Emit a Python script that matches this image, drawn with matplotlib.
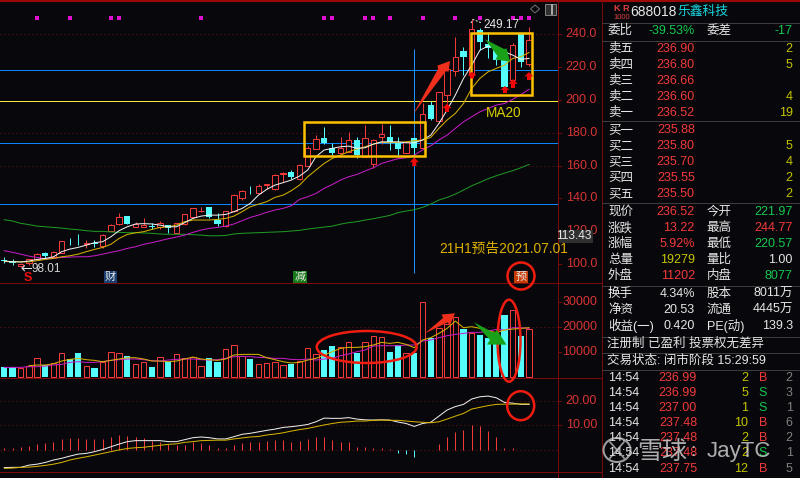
import numpy as np
import matplotlib
matplotlib.use("Agg")
import matplotlib.pyplot as plt
from matplotlib.patches import Polygon, Rectangle, Ellipse

plt.rcParams['font.family'] = ['Liberation Sans', 'Noto Sans CJK SC', 'DejaVu Sans']

# ---------- data ----------
opens = [102.5,101.8,99.0,100.4,103.2,106.5,104,107,113,113,112,112.7,111,120,124.3,129.2,122.8,122.8,123.2,122.4,123.8,118.7,124.3,128.4,132.2,135,126.8,123,132.5,140,144.8,143.5,148.3,145.5,154.9,155.8,151.8,160,170.3,177,170.5,167.8,168.2,175.6,165.4,161,177.6,177.2,173.5,167.8,176.6,170.5,196.8,187.4,203,218,230,215,242.6,234,231,229,212,240.5,221.97]
closes = [102,100.4,100,102.8,105.8,105,107.5,113.8,112.5,112.5,112.5,112.3,117.5,124,128.4,124.3,124.4,124,122.8,124.8,121.8,124.8,130.2,134,132.6,128.8,124.3,132.5,142,144.3,144.4,147.5,148.6,154,154.9,153.2,160.3,171,176,173.5,167.8,171,175.4,166.4,176.6,175.6,179,174.6,169.9,174.5,170.5,191.4,188.2,204.8,219,226.4,226,243.4,235.5,231.7,224.5,208,233.6,223.3,236.52]
highs = [104,103,100.4,103,106.5,107.5,108,114,115.6,118,114.6,114.6,118,124.2,131,129.4,125.8,127.8,124.8,126.4,124,125,130.5,134,135,135,130.8,132.5,142.5,145,147.8,148.8,148.6,155,155.8,157.2,161.2,172,178.6,183.3,174,177.6,180.2,177.2,184.5,176,185.3,184.5,177.2,174.8,176.8,198,199.6,205,219,238.6,232.5,249.17,243.9,241.6,233,230.5,234.5,240.6,244.77]
lows = [100.4,99.4,98.01,99.4,102.4,103.4,103.4,107,111.5,111.5,110,110.5,110,120,124,124.2,122.5,122.4,121.5,121.5,118.6,118.6,124,127.8,131.5,128,123,122.5,132,139,142.6,142.6,146,145,150,151.6,151.5,159.5,170,173.1,166.4,167.4,168.2,164.4,165,158.7,173,169.5,166.4,167.4,165.4,170,187.8,186,198,214.6,215.2,214,230.5,225.4,221.4,207.5,210,220,220.57]
ma5 = [101.8,101.4,101.2,101.8,102.8,103.4,104.4,107.5,109.1,110.1,111.5,113,113.6,116.6,120.3,122.7,124.4,124.6,124.4,123.7,122.7,122.7,125.2,127.8,129.2,129.8,129.8,130.2,131.9,133.9,137,142,145.5,148.1,149.6,151.2,153.6,157.3,165.4,169.5,170.5,171.5,171.9,170.5,170.9,173.1,174.5,174.5,174.5,173.9,173.9,175.6,178.6,185.7,193.9,203,213.2,221.3,230.4,232.9,231.5,229.4,227.4,224.8,225.4]
ma10 = [101.5,101.4,101.3,101.3,102,102.8,103.4,104.4,105,106,107.5,108.9,110.1,112,115.6,118,119,119.7,121.1,122.3,122.7,123.7,125.8,126.8,126.8,126.8,127.2,127.8,129.2,131.9,134.9,136.5,138,140.6,142,144.7,148.1,153.2,157.3,161.3,164.4,166.4,168.5,170.1,171.5,173.1,174.3,173.9,174.3,174.5,175.2,175.6,177.2,182.7,187.8,191.8,197.9,207.1,213.2,217.2,219.3,221.3,225.4,226.4,229]
ma20 = [108.1,107.1,106,104.8,104,103.2,103.4,104,104.2,104.4,104.4,105,106,107.1,108.1,109.5,110.5,112,113,114.2,115.4,116.4,117.6,119.3,120.7,121.7,122.3,123.1,124.4,126.4,128.4,129.8,131.5,132.9,133.9,135.5,139.4,141,143,146.1,148.5,151.2,153.2,154.6,156.7,158.7,161.3,162.8,164.2,164.8,166.4,169.5,172.1,175.6,178.6,182.7,186.7,189.8,192.8,194.9,196.9,197.9,200.4,203.4,206.5]
ma60 = [127,126.2,124.8,124,123.1,122.7,122.3,121.9,121.3,120.9,120.3,119.9,119.9,119.5,119.3,119.1,119.1,118.9,118.7,118.3,118.1,118.1,118.1,117.9,117.6,117.2,117.2,117.4,118.3,118.7,118.9,119.1,119.3,119.5,119.7,120.1,120.5,121.3,121.9,122.5,123.1,124.3,125.2,125.8,126.8,127.6,128.6,129.6,131.3,132.3,133.1,134.5,136.5,139,140.6,142.6,145.1,147.7,149.8,152,153.8,155.4,156.9,158.7,160.7]
volumes = [4000,4000,3300,4300,7300,4700,5300,9300,6900,9300,4300,3300,6000,10000,9300,8300,4900,6000,3700,7700,6000,8900,7600,8000,4300,7300,5700,10900,12700,8400,7100,4900,5300,5700,4700,4900,6300,11300,8900,10700,12400,11700,14000,9300,14000,16400,16000,10000,12700,9300,9300,29700,15600,19600,20900,24000,19100,17300,16700,15600,12900,24700,26700,16400,19279]
vol_ma5 = [np.nan,np.nan,np.nan,4400,4670,4670,5200,6270,6930,7330,6800,6530,6000,6530,7070,7600,7600,7070,6270,6270,6000,6270,7070,7870,7070,6800,6530,7070,8670,8930,8930,8930,7600,6800,6000,5470,5730,6670,7330,8670,10000,11330,11730,11730,12000,12670,13730,13330,13730,12930,11600,14670,15600,17330,19330,22260,19600,20000,19330,18400,17600,18660,19060,19330,19600]
vol_ma10 = [3730,3730,3730,4000,4000,4270,4670,4930,5730,6000,5730,5730,6000,6530,6800,7070,7070,6800,6400,6270,6670,6930,7070,7070,6800,6670,6800,7330,8000,8130,8000,7730,7600,7330,7330,6930,6800,7070,6670,7070,7330,8400,9070,10000,10670,12270,12400,12400,12400,12670,12670,14270,14670,15600,16400,16930,17330,17730,17730,18260,18930,18660,19600,19600,19330]
dif = [-7.3,-7.2,-7.2,-6.3,-5.9,-5.2,-4.2,-3.5,-2.6,-1.8,-1.5,-0.8,0.1,1.2,2.3,3.3,3.7,3.7,3.7,3.7,3.3,3.3,4.1,4.9,5.2,4.9,4.4,4.4,5.3,6.3,6.7,7.3,7.9,8.4,9.1,9.4,9.8,10.3,11.4,12.9,12.8,12.8,13.1,12.5,12.2,12.1,12.2,12.1,11.3,10.7,9.5,10.7,11.2,13.7,16.2,17.6,18.5,20.7,21.6,21.9,21.2,19.3,19,18.5,18.5]
dea = [-7.6,-7.5,-7.2,-7.1,-6.8,-6.4,-5.9,-5.2,-4.2,-3.5,-2.9,-2.2,-1.5,-0.8,-0.1,0.5,0.8,1,1.4,1.8,2.2,2.4,3,3.3,3.7,3.8,3.9,3.9,4.4,4.8,5.2,5.4,6,6.4,6.9,7.6,8.2,8.7,9.4,10.1,10.7,11.2,11.4,11.7,11.7,12,12.1,12,12,11.7,11.4,11.2,11,11.4,12.5,13.7,14.8,16.6,17.3,18,18.5,18.6,18.6,18.7,18.7]
macd = [0.5,0.8,1.2,1.5,2.3,2.7,3.3,4.4,4.6,4.6,4.4,4.4,4.4,5.2,6,5.4,5.3,4.6,3.5,3.3,2.2,1.9,1.9,3,2.6,1.9,0.5,0.8,1.9,2.9,3,3.3,3.5,3.9,3.9,3.3,3.5,4.2,5.3,5.3,3.9,3.3,3,1.2,1.2,0.5,0.5,0.1,-1.2,-1.9,-2.9,-0.3,0,2.4,5,7.3,8,10,9.5,7.8,5.3,0.8,0.8,-0.3,0]
signal_days = [4,8,13,14,24,39,40,44,45,47,51,55,58,62,63,64]
level_blue = [218.1,173.5,136.3]
level_yellow = [199.4]
price_ticks = [240,220,200,180,160,140,120,100]
vol_ticks = [30000,20000,10000]
macd_ticks = [20,10]

order_rows = [("卖五","236.90","2"),("卖四","236.80","5"),("卖三","236.66",""),("卖二","236.60","4"),("卖一","236.52","19"),
              ("买一","235.88",""),("买二","235.80","5"),("买三","235.70","4"),("买四","235.55","2"),("买五","235.50","2")]
trade_rows = [("14:54","236.99","2","B","2"),("14:54","236.99","5","S","3"),("14:54","237.00","1","S","1"),("14:54","237.48","10","B","6"),
              ("14:54","237.48","2","B","2"),("14:54","237.48","2","S","1"),("14:54","237.75","12","B","5")]

BG = '#08080c'; RED = '#f23a3a'; CYAN = '#54fcfc'; DARK = '#7a0a0a'; GRID = '#6a1212'
TICK = '#d83434'; WHITE = '#e6e6e6'; GREEN = '#14c850'; YEL = '#c4c400'; ORANGE = '#ffc000'
C_MA5 = '#f2f2f2'; C_MA10 = '#d8b400'; C_MA20 = '#c81cc8'; C_MA60 = '#1f9a24'
PX = 0.72  # one pixel as a line width

W, H = 800, 478
fig = plt.figure(figsize=(8, 4.78), dpi=100, facecolor=BG)
n = len(closes); x = np.arange(n)
xlim = (-4.3/8.2, (558-4.3)/8.2)

def panel(top, bottom, ylim):
    a = fig.add_axes([0, 1-bottom/H, 558/W, (bottom-top)/H], facecolor=BG)
    a.set_xlim(*xlim); a.set_ylim(*ylim); a.axis('off')
    return a

ax = panel(1, 283, (88.4, 260.4))
av = panel(283, 378, (-520, 37480))
am = panel(378, 472.3, (-9.22, 29.27))

# --- price panel
for p in (240, 180, 160):
    ax.axhline(p, color=GRID, lw=PX, ls=(0, (1, 3)), zorder=1)
for p in level_blue:
    ax.axhline(p, color='#0a84ff', lw=PX, zorder=1.5)
for p in level_yellow:
    ax.axhline(p, color='#ffe93c', lw=PX, zorder=1.5)
ax.vlines(50, 240-(273-34.4)/1.64, 240-(49-34.4)/1.64, color='#1e90ff', lw=PX, zorder=1.6)
o, c, h, l = map(np.array, (opens, closes, highs, lows))
up = c >= o
cols = [RED if u else CYAN for u in up]
ax.vlines(x, l, h, colors=cols, lw=PX, zorder=2)
for i in range(n):
    b, t_ = min(o[i], c[i]), max(o[i], c[i])
    hgt = max(t_-b, 0.4)
    if up[i]:
        ax.bar(i, hgt, bottom=b, width=0.64, facecolor=BG, edgecolor=RED, lw=PX, zorder=3)
    else:
        ax.bar(i, hgt, bottom=b, width=0.74, color=CYAN, lw=0, zorder=3)
ax.plot(x, ma60, color=C_MA60, lw=PX, zorder=4)
ax.plot(x, ma20, color=C_MA20, lw=PX, zorder=4)
ax.plot(x, ma10, color=C_MA10, lw=PX, zorder=4)
ax.plot(x, ma5, color=C_MA5, lw=PX, zorder=4)
ax.scatter(signal_days, [250]*len(signal_days), marker='s', s=5, color='#e010d0', lw=0, zorder=4)

# --- volume panel
av.axhline(20000, color=GRID, lw=PX, ls=(0, (1, 3)), zorder=1)
for i in range(n):
    if up[i]:
        av.bar(i, volumes[i], width=0.64, facecolor=BG, edgecolor=RED, lw=PX, zorder=2)
    else:
        av.bar(i, volumes[i], width=0.74, color=CYAN, lw=0, zorder=2)
av.plot(x, vol_ma10, color=C_MA20, lw=PX, zorder=3)
av.plot(x, vol_ma5, color=C_MA10, lw=PX, zorder=3)

# --- MACD panel
for v in (20, 10, 0):
    am.axhline(v, color=GRID, lw=PX, ls=(0, (1, 3)), zorder=1)
macd_arr = np.array(macd)
am.vlines(x, 0, macd_arr, colors=[RED if v >= 0 else CYAN for v in macd_arr], lw=PX, zorder=2)
am.plot(x, dif, color='#f0f0f0', lw=PX, zorder=3)
am.plot(x, dea, color=C_MA10, lw=PX, zorder=3)

# --- overlay in pixel coordinates
ov = fig.add_axes([0, 0, 1, 1], facecolor='none')
ov.set_xlim(0, W); ov.set_ylim(H, 0); ov.axis('off')
ov.plot([0, W], [1, 1], color='#9a0808', lw=1.5)
for yy in (283, 378, 472.3):
    ov.plot([0, 601], [yy, yy], color=DARK, lw=PX)
ov.plot([558, 558], [0, 478], color=DARK, lw=PX)
ov.plot([601.5, 601.5], [0, 478], color=DARK, lw=PX)
for yy in (22.5, 40.7, 121, 203, 285.7, 336.7, 353, 370):
    ov.plot([602, W], [yy, yy], color='#3c3c3c', lw=PX)

def t(px, py, s, color=WHITE, size=9, ha='left', **kw):
    return ov.text(px, py, s, color=color, fontsize=size, ha=ha, va='center', **kw)

pxy = lambda p: 34.4+(240-p)*1.64
for p in price_ticks:
    t(597, pxy(p), f"{p:.1f}", TICK, 9, 'right')
    ov.plot([558, 561], [pxy(p)]*2, color=DARK, lw=PX)
for v in vol_ticks:
    yy = 376.7-v/400
    t(597, yy, str(v), TICK, 9, 'right'); ov.plot([558, 561], [yy, yy], color=DARK, lw=PX)
for v in macd_ticks:
    yy = 449.7-v*2.45
    t(597, yy, f"{v:.2f}", TICK, 9, 'right'); ov.plot([558, 561], [yy, yy], color=DARK, lw=PX)
ov.add_patch(Rectangle((559, 229.5), 34, 13.5, fc='#303030', ec='none', zorder=5))
t(592, 236.3, "113.43", WHITE, 8.6, 'right', zorder=6)

# annotations
t(483, 25, "249.17", WHITE, 8.5)
ov.plot([471, 473, 482], [23, 19.5, 23], color=WHITE, lw=PX, ls=(0, (2, 1.5)))
ov.plot([22, 31], [268.3, 268.3], color=WHITE, lw=PX)
ov.plot([24.5, 22, 24.5], [265.8, 268.3, 270.8], color=WHITE, lw=PX)
t(32, 268.5, "98.01", '#d8d8d8', 8.5)
t(27.5, 278, "S", '#f01010', 9, 'center', fontweight='bold')
t(110.5, 277, "财", WHITE, 8, 'center', bbox=dict(fc='#1b3f70', ec='none', pad=1))
t(300, 277, "减", WHITE, 8, 'center', bbox=dict(fc='#1a7a1a', ec='none', pad=1))
t(521, 277, "预", WHITE, 8, 'center', bbox=dict(fc='#c83c08', ec='none', pad=1))
t(439, 249, "21H1预告2021.07.01", '#ddb000', 9.9)
t(504, 113, "MA20", '#d8d000', 9.8, 'center')
ov.add_patch(Polygon([(535, 5), (539.5, 9), (535, 13), (530.5, 9)], closed=True, fc='none', ec='#707070', lw=PX))
ov.add_patch(Rectangle((545, 4), 11, 10.5, fc='#303030', ec='#808080', lw=PX))
ov.plot([552, 552], [5, 14], color='#c0c0c0', lw=1.2)

for bx in ((304.3, 122.3, 120.7, 33.4), (471.3, 32.7, 60.4, 62.3)):
    ov.add_patch(Rectangle(bx[:2], bx[2], bx[3], fc='none', ec=ORANGE, lw=1.8, zorder=6))
for e in ((366.7, 347, 100, 32, 0), (509, 340.7, 23, 82, 0), (520.7, 405.7, 27, 29, 0), (521, 276, 27, 27, 0)):
    ov.add_patch(Ellipse(e[:2], e[2], e[3], angle=e[4], fc='none', ec='#f01c10', lw=1.8, zorder=6))
ARR_RED = '#f0301c'; ARR_GRN = '#18a018'
for pts, col in (([(413.3,114),(438.3,68.5),(437.3,65.7),(450,61),(448.5,72),(446,71)], ARR_RED),
                 ([(485,39.3),(504,49),(506.7,48.5),(510,61.7),(495.5,59.5),(497.5,56)], ARR_GRN),
                 ([(425,333.3),(443,318),(441.7,314.5),(455,313.3),(450,325),(447.5,322.5)], ARR_RED),
                 ([(474,322.3),(494,333),(497,330),(506.5,344.7),(487,344.5),(490,340)], ARR_GRN)):
    ov.add_patch(Polygon(pts, closed=True, fc=col, ec='none', zorder=7))
for ux, y0, y1 in ((414.3,157.5,166),(447,103.5,112),(472,71.7,78.5),(505,86,93),(513,79,88),(529,72,80)):
    ym = y0+(y1-y0)*0.55
    ov.add_patch(Polygon([(ux,y0),(ux+4.5,ym),(ux+2,ym),(ux+2,y1),(ux-2,y1),(ux-2,ym),(ux-4.5,ym)], closed=True, fc='#f00808', ec='none', zorder=7))

# --- quote panel
t(622, 8, "K R", '#e04040', 6.5, 'center', fontweight='bold')
t(622, 17, "1000", '#e04040', 5.5, 'center')
t(630, 11.5, "688018", WHITE, 10)
t(678, 11.5, "乐鑫科技", '#18d8e0', 9.2)
t(608, 31, "委比"); t(694.7, 31, "-39.53%", GREEN, 9, 'right')
t(706.7, 31, "委差"); t(792.7, 31, "-17", GREEN, 9, 'right')
ys = [49, 64.5, 81, 97, 113, 130, 146, 162, 178, 194]
for yy, (a, b, q) in zip(ys, order_rows):
    t(608, yy, a); t(694.7, yy, b, RED, 9, 'right')
    if q:
        t(792.7, yy, q, YEL, 9, 'right')
rows = [(212,"现价","236.52",RED,"今开","221.97",GREEN),(228,"涨跌","13.22",RED,"最高","244.77",RED),
        (244,"涨幅","5.92%",RED,"最低","220.57",GREEN),(260,"总量","19279",YEL,"量比","1.00",WHITE),
        (276,"外盘","11202",RED,"内盘","8077",GREEN),(294,"换手","4.34%",WHITE,"股本","8011万",WHITE),
        (310,"净资","20.53",WHITE,"流通","4445万",WHITE),(326,"收益(一)","0.420",WHITE,"PE(动)","139.3",WHITE)]
for yy, a, b, cb, d, e, ce in rows:
    t(608, yy, a); t(694.7, yy, b, cb, 9, 'right')
    t(706.7, yy, d); t(792.7, yy, e, ce, 9, 'right')
t(607, 344, "注册制 已盈利 投票权无差异")
t(607, 361, "交易状态: 闭市阶段 15:29:59")
for yy, (a, b, q, s, m) in zip((378, 393, 408, 423, 438, 453, 469), trade_rows):
    t(608, yy, a); t(697, yy, b, RED, 9, 'right')
    t(748, yy, q, YEL, 9, 'right')
    t(762.7, yy, s, RED if s == "B" else GREEN, 9, 'center')
    t(792.7, yy, m, '#808080', 9, 'right')

# watermark
ov.add_patch(Ellipse((617, 450), 27, 24, fc='none', ec='#cfcfcf', lw=1.5, alpha=0.75, zorder=8))
ov.plot([610, 624], [442, 458], color='#cfcfcf', lw=1.2, alpha=0.75, zorder=8)
ov.plot([624, 610], [442, 458], color='#cfcfcf', lw=1.2, alpha=0.75, zorder=8)
t(637, 452, "雪球", '#d8d8d8', 18, alpha=0.8, zorder=8)
t(690, 452, ":", '#d8d8d8', 14, alpha=0.8, zorder=8)
t(707, 452, "JayTC", '#d8d8d8', 16, alpha=0.8, zorder=8)

fig.savefig("out.png", dpi=100, facecolor=BG)
